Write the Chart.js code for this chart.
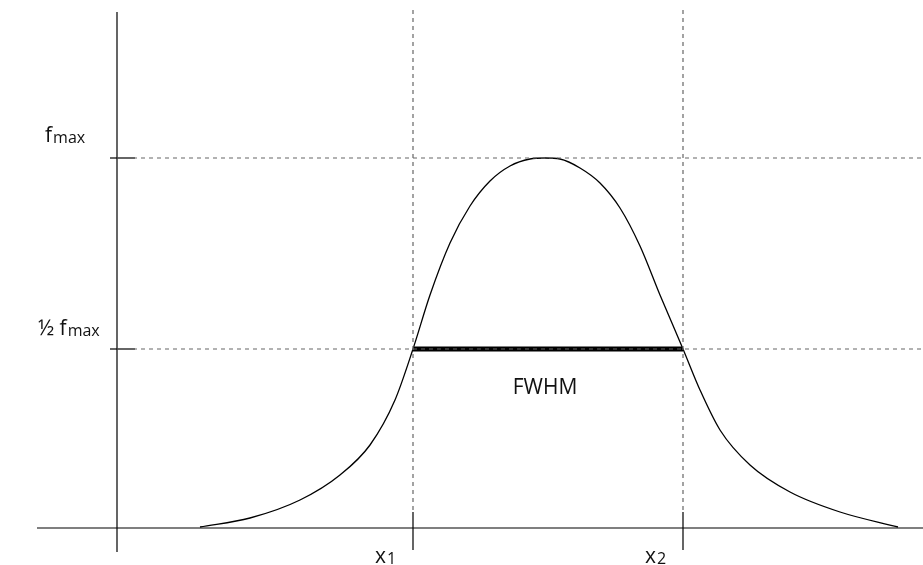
<!DOCTYPE html>
<html>
<head>
<meta charset="utf-8">
<script src="https://cdn.jsdelivr.net/npm/chart.js@4"></script>
<style>
  html, body { margin: 0; padding: 0; background: #fff; }
  #wrap { width: 923px; height: 565px; }
</style>
</head>
<body>
<div id="wrap"><canvas id="c"></canvas></div>
<script>
// curve (x position, height above baseline)
const curveX = [200, 250, 300, 340, 370, 395, 413, 430, 450, 470, 490, 510, 530, 545, 560, 580, 600, 620, 640, 660, 683, 700, 720, 750, 790, 840, 898];
const curveY = [1, 10, 28, 53, 83, 128, 179, 233, 285, 322, 347, 362, 369, 370, 369, 360, 345, 320, 282, 233, 179, 138, 98, 63, 36, 16, 1];
const fMax = 370;
const halfMax = 179;
const x1 = 413;
const x2 = 683;
const yAxisX = 117;

const pts = curveX.map((x, i) => ({ x: x, y: curveY[i] }));
const dash = { borderColor: '#666', borderWidth: 1.2, borderDash: [4, 4], pointRadius: 0, fill: false };
const solid = { borderColor: '#000', borderWidth: 1.2, pointRadius: 0, fill: false };

const labelsPlugin = {
  id: 'labels',
  afterDraw(chart) {
    const ctx = chart.ctx;
    const xs = chart.scales.x, ys = chart.scales.y;
    ctx.save();
    ctx.fillStyle = '#111';
    ctx.textBaseline = 'alphabetic';
    function sub(main, small, px, py) {
      ctx.font = '21px "Open Sans"';
      ctx.fillText(main, px, py);
      const w = ctx.measureText(main).width;
      ctx.font = '16px "Open Sans"';
      ctx.fillText(small, px + w + 1, py + 1);
    }
    sub('f', 'max', 45, ys.getPixelForValue(fMax) - 16);
    sub('½ f', 'max', 38, ys.getPixelForValue(halfMax) - 14);
    sub('x', '1', xs.getPixelForValue(x1) - 38, 563);
    sub('x', '2', xs.getPixelForValue(x2) - 38, 563);
    ctx.font = '21px "Open Sans"';
    ctx.textAlign = 'center';
    ctx.fillText('FWHM', 545, ys.getPixelForValue(halfMax) + 45);
    ctx.restore();
  }
};

new Chart(document.getElementById('c'), {
  type: 'line',
  data: {
    datasets: [
      Object.assign({ data: [{ x: yAxisX, y: fMax }, { x: 923, y: fMax }] }, dash),
      Object.assign({ data: [{ x: yAxisX, y: halfMax }, { x: 923, y: halfMax }] }, dash),
      Object.assign({ data: [{ x: x1, y: 518 }, { x: x1, y: 0 }] }, dash),
      Object.assign({ data: [{ x: x2, y: 518 }, { x: x2, y: 0 }] }, dash),
      Object.assign({ data: [{ x: yAxisX, y: 516 }, { x: yAxisX, y: -24 }] }, solid),
      Object.assign({ data: [{ x: 37, y: 0 }, { x: 923, y: 0 }] }, solid),
      Object.assign({ data: [{ x: 110, y: fMax }, { x: 135, y: fMax }] }, solid),
      Object.assign({ data: [{ x: 110, y: halfMax }, { x: 135, y: halfMax }] }, solid),
      Object.assign({ data: [{ x: x1, y: 16 }, { x: x1, y: -22 }] }, solid),
      Object.assign({ data: [{ x: x2, y: 16 }, { x: x2, y: -22 }] }, solid),
      { data: [{ x: x1, y: halfMax }, { x: x2, y: halfMax }], borderColor: '#000', borderWidth: 5, borderDash: [], pointRadius: 0 },
      { data: pts, borderColor: '#000', borderWidth: 1.3, pointRadius: 0, cubicInterpolationMode: 'monotone', fill: false }
    ]
  },
  options: {
    responsive: true,
    maintainAspectRatio: false,
    animation: false,
    layout: { padding: 0 },
    plugins: { legend: { display: false }, tooltip: { enabled: false } },
    scales: {
      x: { type: 'linear', min: 0, max: 923, display: false },
      y: { type: 'linear', min: -37, max: 528, display: false }
    }
  },
  plugins: [labelsPlugin]
});
</script>
</body>
</html>
